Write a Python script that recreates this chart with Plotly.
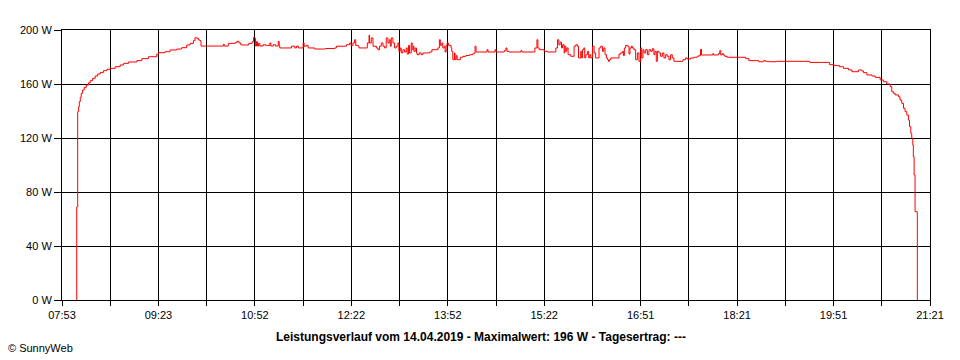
import plotly.graph_objects as go

# time in minutes since midnight, power in W
time_min = [486.7, 486.7, 487.6, 488.5, 489.1, 490.0, 490.9, 492.2, 493.7, 495.6, 497.8, 499.3, 501.5, 503.9,
            506.2, 508.6, 511.7, 514.8, 517.9, 522.5, 527.1, 530.3, 535.0, 542.7, 547.3, 553.5, 561.2, 562.8,
            568.9, 573.6, 579.8, 584.4, 589.1, 592.2, 595.3, 596.8, 598.4, 600.0, 601.4, 602.4, 623.2, 624.1,
            627.8, 634.0, 635.8, 637.7, 639.5, 646.9, 650.1, 651.3, 652.5, 653.2, 654.1, 655.0, 656.0, 657.2,
            660.3, 662.5, 666.5, 667.4, 669.6, 671.7, 674.3, 675.2, 675.7, 686.6, 689.7, 691.3, 693.1, 697.5,
            698.4, 700.5, 702.1, 708.2, 718.5, 726.8, 728.4, 737.7, 740.8, 742.1, 743.9, 745.4, 746.4, 748.6,
            749.5, 756.3, 757.2, 758.8, 759.3, 760.9, 762.5, 765.6, 767.1, 768.6, 770.2, 771.8, 773.3, 774.8,
            776.4, 777.6, 778.6, 779.5, 781.1, 782.6, 784.1, 785.7, 786.6, 787.8, 788.8, 790.3, 791.8, 793.4,
            794.3, 795.6, 796.5, 798.1, 799.0, 800.0, 800.6, 801.8, 803.0, 803.6, 805.5, 807.3, 808.9, 812.0,
            815.1, 817.3, 822.9, 824.3, 825.2, 826.6, 827.5, 828.7, 829.6, 830.6, 831.5, 832.7, 835.2, 835.8,
            836.8, 838.3, 838.9, 839.9, 840.8, 843.8, 846.1, 849.1, 852.2, 855.4, 856.9, 857.5, 858.4, 868.6,
            869.6, 876.1, 877.0, 884.7, 886.3, 887.2, 889.1, 900.2, 901.2, 912.0, 913.2, 915.1, 916.0, 917.2,
            921.9, 925.0, 932.7, 934.3, 935.5, 936.7, 938.0, 938.9, 940.4, 941.1, 942.0, 942.9, 944.1, 946.6,
            949.7, 951.3, 952.8, 953.8, 955.9, 956.8, 957.5, 958.7, 959.6, 960.6, 962.1, 963.3, 964.3, 965.2,
            966.8, 968.3, 969.8, 971.4, 972.9, 974.5, 976.1, 977.3, 978.5, 979.8, 980.7, 981.7, 982.6, 983.8,
            990.0, 991.5, 993.1, 994.6, 995.6, 996.5, 997.7, 999.3, 1000.8, 1001.7, 1003.0, 1003.9, 1005.4,
            1007.0, 1008.6, 1010.1, 1011.7, 1012.6, 1013.8, 1014.7, 1016.3, 1017.9, 1019.4, 1021.0, 1022.5,
            1024.0, 1025.0, 1026.2, 1027.2, 1028.7, 1030.2, 1031.8, 1033.3, 1034.9, 1036.5, 1038.0, 1039.5,
            1041.1, 1042.6, 1050.4, 1051.0, 1053.5, 1055.0, 1058.1, 1061.2, 1064.4, 1065.8, 1067.4, 1068.3,
            1078.2, 1078.8, 1079.4, 1082.9, 1084.1, 1085.3, 1086.2, 1087.5, 1088.5, 1090.0, 1092.2, 1109.2,
            1112.3, 1121.6, 1126.2, 1127.8, 1130.8, 1138.0, 1168.9, 1187.5, 1191.9, 1196.8, 1200.5, 1205.1,
            1208.3, 1214.4, 1217.5, 1219.1, 1222.2, 1226.9, 1230.0, 1234.6, 1237.6, 1240.8, 1243.9, 1245.4,
            1246.9, 1248.5, 1251.6, 1253.1, 1254.7, 1256.3, 1257.8, 1259.4, 1260.9, 1261.9, 1263.1, 1264.0,
            1265.0, 1265.5, 1266.2, 1267.1, 1269.2]
power_w = [0, 69, 139.5, 143.2, 146.9, 150.1, 153.1, 155.6, 157.5, 159.3, 161.0, 162.5, 164.2, 165.9,
           167.4, 168.6, 169.9, 170.9, 171.6, 172.8, 174.1, 175.3, 176.3, 177.3, 178.8, 180.2, 182.2, 183.2,
           183.9, 185.2, 185.9, 186.9, 188.9, 190.1, 192.1, 194.3, 193.8, 192.6, 192.1, 188.1, 189.4, 188.1,
           190.1, 190.6, 191.6, 190.4, 188.9, 190.1, 191.4, 194.6, 193.8, 188.1, 191.4, 188.1, 190.1, 188.1,
           189.1, 188.6, 190.4, 188.1, 189.1, 188.1, 191.6, 188.1, 186.7, 188.0, 186.7, 188.0, 186.7, 190.4,
           188.0, 188.6, 186.7, 185.9, 186.3, 186.7, 188.0, 189.1, 190.4, 188.6, 190.4, 192.8, 188.6, 188.0,
           186.7, 186.7, 190.4, 196.1, 190.4, 194.1, 188.0, 186.7, 185.4, 188.0, 190.4, 188.0, 186.7, 194.1,
           190.4, 192.8, 188.0, 194.1, 190.4, 186.7, 188.0, 190.4, 184.2, 186.7, 183.0, 185.4, 183.7, 186.7,
           182.2, 188.6, 183.0, 190.4, 185.4, 188.0, 184.2, 186.7, 183.0, 181.7, 183.0, 181.7, 183.0, 183.0,
           183.7, 185.4, 186.7, 192.8, 188.6, 190.4, 186.7, 188.0, 183.7, 188.6, 190.4, 188.6, 186.7, 184.2,
           178.0, 183.0, 178.0, 181.0, 178.0, 179.8, 180.5, 181.1, 181.7, 182.4, 183.0, 188.0, 183.7, 185.4,
           183.7, 185.4, 183.7, 184.7, 186.7, 184.2, 183.7, 184.7, 183.7, 183.7, 186.7, 192.8, 186.7, 185.4,
           184.2, 183.7, 186.7, 192.8, 189.1, 191.0, 186.7, 189.1, 183.0, 188.0, 184.2, 186.7, 181.7, 180.5,
           188.0, 189.1, 188.0, 179.3, 184.2, 179.3, 185.4, 186.7, 179.3, 181.7, 184.2, 179.3, 181.7, 179.3,
           188.0, 183.0, 179.3, 179.3, 186.7, 188.0, 184.2, 186.7, 181.7, 179.3, 178.0, 176.8, 178.0, 179.3,
           179.3, 182.2, 183.0, 184.2, 181.0, 186.7, 188.6, 188.0, 182.2, 186.7, 188.0, 186.7, 185.4,
           178.0, 183.0, 176.8, 186.7, 179.3, 185.4, 183.0, 185.4, 181.7, 185.4, 184.2, 186.1,
           181.7, 184.2, 176.8, 184.2, 183.0, 180.5, 183.0, 179.3, 181.7, 180.5, 178.0, 181.7,
           179.3, 176.8, 176.8, 178.0, 179.3, 178.5, 179.3, 179.8, 180.5, 181.0, 185.7, 181.5,
           181.5, 182.5, 181.5, 181.5, 182.5, 184.7, 181.5, 182.5, 181.5, 180.5, 179.8, 179.0,
           177.3, 176.5, 177.3, 176.8, 176.5, 176.8, 176.0, 174.3, 173.6, 172.8, 171.6, 170.4,
           169.1, 170.4, 169.6, 168.4, 166.7, 165.9, 164.9, 163.0, 161.7, 160.0, 158.0, 154.3,
           153.1, 151.9, 150.6, 148.1, 145.7, 142.0, 139.5, 137.0, 133.3, 128.4, 123.5, 119.8,
           114.8, 106.2, 92.6, 65.4, 0]

x_start, x_end, n_div = 473, 1281, 18  # 07:53 .. 21:21
time_labels = ["07:53", "09:23", "10:52", "12:22", "13:52", "15:22", "16:51", "18:21", "19:51", "21:21"]
y_vals = [0, 40, 80, 120, 160, 200]
y_labels = ["0 W", "40 W", "80 W", "120 W", "160 W", "200 W"]

x_tickvals = [x_start + k * (x_end - x_start) / n_div for k in range(n_div + 1)]
x_ticktext = []
for k in range(n_div + 1):
    x_ticktext.append(time_labels[k // 2] if k % 2 == 0 else "")

fig = go.Figure()
fig.add_trace(go.Scatter(x=time_min, y=power_w, mode="lines",
                         line=dict(color="#ff0000", width=1, shape="hv"),
                         hoverinfo="skip", showlegend=False))

font_family = "Liberation Sans, Arial, sans-serif"
# page body has an 8px default margin, so the figure is 8px smaller on each axis
fig.update_layout(
    width=952, height=352,
    margin=dict(l=52, r=30, t=22, b=60),
    paper_bgcolor="white", plot_bgcolor="white",
    font=dict(family=font_family, size=11, color="black"),
    xaxis=dict(range=[x_start, x_end], tickmode="array", tickvals=x_tickvals, ticktext=x_ticktext,
               showgrid=True, gridcolor="black", gridwidth=1, zeroline=False,
               showline=True, linecolor="black", linewidth=1, mirror=True,
               ticks="outside", ticklen=5, tickcolor="black", tickfont=dict(size=11)),
    yaxis=dict(range=[0, 200], tickmode="array", tickvals=y_vals, ticktext=y_labels,
               showgrid=True, gridcolor="black", gridwidth=1, zeroline=False,
               showline=True, linecolor="black", linewidth=1, mirror=True,
               ticks="outside", ticklen=7, tickcolor="black", tickfont=dict(size=11)),
    annotations=[
        dict(text="<b>Leistungsverlauf vom 14.04.2019 - Maximalwert: 196 W - Tagesertrag: ---</b>",
             xref="paper", yref="paper", x=(480 - 60) / 870, y=-(337 - 300) / 270,
             xanchor="center", yanchor="middle", showarrow=False,
             font=dict(family=font_family, size=12, color="black")),
        dict(text="© SunnyWeb", xref="paper", yref="paper", x=(4 - 60) / 870, y=-(348 - 300) / 270,
             xanchor="left", yanchor="middle", showarrow=False,
             font=dict(family=font_family, size=11, color="black")),
    ],
)

fig.write_html("out.html")
